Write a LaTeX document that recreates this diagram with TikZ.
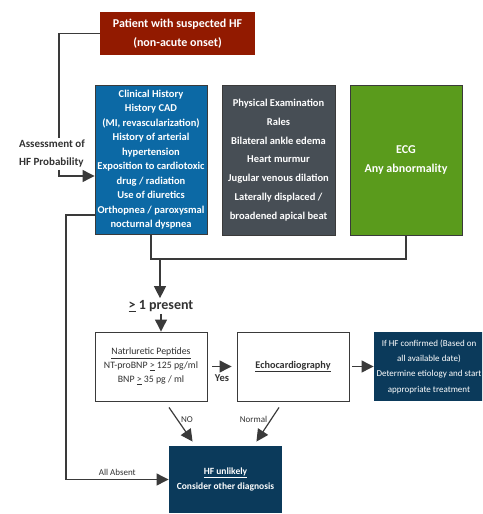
\documentclass[tikz,border=0pt]{standalone}
\usepackage{fontspec}
\setmainfont{Carlito}
\usetikzlibrary{arrows.meta,calc}
\definecolor{hfred}{RGB}{146,26,0}
\definecolor{hfblue}{RGB}{12,105,165}
\definecolor{hfgray}{RGB}{71,78,85}
\definecolor{hfgreen}{RGB}{90,155,28}
\definecolor{hfnavy}{RGB}{11,58,91}
\definecolor{hfline}{RGB}{58,58,58}
\definecolor{hftext}{RGB}{50,50,50}
\begin{document}
\begin{tikzpicture}[x=1pt,y=-1pt,
  colbox/.style={fill=#1,draw=hfline,line width=0.9pt,text=white,align=center,inner sep=0pt,
    font=\fontsize{10.5}{14.5}\selectfont\bfseries},
  whitebox/.style={fill=white,draw=hfline,line width=0.9pt,text=hftext,align=center,inner sep=0pt,
    font=\fontsize{9.8}{14}\selectfont},
  conn/.style={draw=hfline,line width=1.2pt},
  arrow/.style={conn,-{Triangle[length=12pt,width=12pt]}},
  lbl/.style={text=hftext,font=\fontsize{9}{11}\selectfont}]
\path[use as bounding box,clip] (0,0) rectangle (482,514);
% top
\node[colbox=hfred,draw=none,minimum width=155pt,minimum height=43pt,
  font=\fontsize{12}{19}\selectfont\bfseries] (patient) at (177.5,33.5)
  {Patient with suspected HF\\(non-acute onset)};
\node[text=hftext,align=left,inner sep=2pt,font=\fontsize{11}{18}\selectfont\bfseries] (assess) at (52,154)
  {Assessment of\\HF Probability};
% three columns
\node[colbox=hfblue,minimum width=112pt,minimum height=149pt] (history) at (151,159.5)
  {Clinical History\\History CAD\\(MI, revascularization)\\History of arterial\\hypertension\\
   Exposition to cardiotoxic\\drug / radiation\\Use of diuretics\\Orthopnea / paroxysmal\\nocturnal dyspnea};
\node[colbox=hfgray,minimum width=113pt,minimum height=150pt,
  font=\fontsize{10.5}{18.8}\selectfont\bfseries] (exam) at (278.5,160)
  {Physical Examination\\Rales\\Bilateral ankle edema\\Heart murmur\\Jugular venous dilation\\
   Laterally displaced /\\broadened apical beat};
\node[colbox=hfgreen,minimum width=112pt,minimum height=150pt,
  font=\fontsize{12}{19}\selectfont\bfseries] (ecg) at (406,160) {ECG\\Any abnormality};
\node[text=hftext,inner sep=2pt,font=\fontsize{14}{16}\selectfont\bfseries] (present) at (161,306)
  {\underline{>} 1 present};
% tests
\node[whitebox,minimum width=112pt,minimum height=69pt] (peptide) at (151,366.5)
  {\underline{Natrluretic Peptides}\\NT-proBNP \underline{>} 125 pg/ml\\BNP \underline{>} 35 pg / ml};
\node[whitebox,minimum width=112pt,minimum height=69pt,font=\fontsize{10.2}{14}\selectfont\bfseries] (echo) at (293,366.5)
  {\underline{Echocardiography}};
\node[colbox=hfnavy,draw=none,minimum width=110pt,minimum height=69pt,
  font=\fontsize{9}{15.3}\selectfont] (confirm) at (429,366.5)
  {If HF confirmed (Based on\\all available date)\\Determine etiology and start\\appropriate treatment};
\node[colbox=hfnavy,draw=none,minimum width=113pt,minimum height=67pt,
  font=\fontsize{9.5}{15}\selectfont\bfseries] (unlikely) at (225.5,479.5)
  {\underline{HF unlikely}\\Consider other diagnosis};
% connectors
\coordinate (merge) at (160,259);
\coordinate (absent) at (66,479.5);
\draw[conn] (patient.west) -| ([xshift=7pt]assess.north);
\draw[arrow] ([xshift=7pt]assess.south) |- ($(history.west)+(0,16.5)$);
\draw[conn] (history.south) |- (merge) -| (ecg.south);
\draw[arrow] (merge) -- (merge |- present.north);
\draw[arrow] (present.south) -- (present.south |- peptide.north);
\draw[arrow,shorten <=5pt,shorten >=5pt] (peptide.east) -- (echo.west)
  node[midway,below=4pt,text=hftext,font=\fontsize{10.5}{12}\selectfont\bfseries] {Yes};
\draw[arrow,shorten <=3pt] (echo.east) -- (confirm.west);
\draw[arrow] ($(peptide.south)+(18,6)$) -- ($(unlikely.north west)+(24,-4)$)
  node[lbl,pos=0.35,right] {NO};
\draw[arrow] ($(echo.south)+(-14,6)$) -- ($(unlikely.north east)+(-26,-4)$)
  node[lbl,pos=0.35,left] {Normal};
\draw[arrow] ($(history.west)+(0,55.5)$) -| (absent) -- (unlikely.west)
  node[lbl,midway,above] {All Absent};
\end{tikzpicture}
\end{document}
